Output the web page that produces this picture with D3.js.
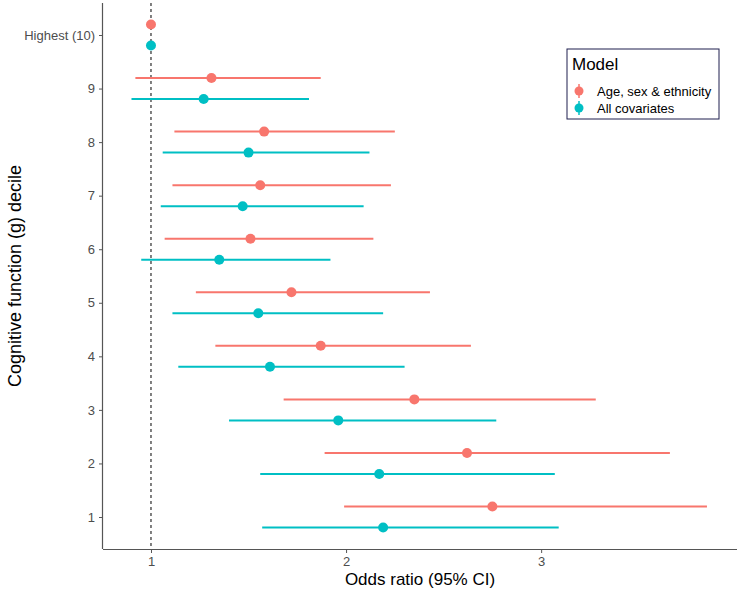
<!DOCTYPE html>
<html>
<head>
<meta charset="utf-8">
<script src="https://cdn.jsdelivr.net/npm/d3@7"></script>
<style>
  body { margin: 0; background: #fff; }
  svg { display: block; font-family: "Liberation Sans", Arial, sans-serif; }
</style>
</head>
<body>
<svg id="chart" width="738" height="593"></svg>
<script>
// ---- data ----
const deciles = ["1", "2", "3", "4", "5", "6", "7", "8", "9", "Highest (10)"];
const models = ["Age, sex & ethnicity", "All covariates"];
const orAge   = [2.75, 2.62, 2.35, 1.87, 1.72, 1.51, 1.56, 1.58, 1.31, 1.00];
const loAge   = [1.99, 1.89, 1.68, 1.33, 1.23, 1.07, 1.11, 1.12, 0.92, 1.00];
const hiAge   = [3.85, 3.66, 3.28, 2.64, 2.43, 2.14, 2.23, 2.25, 1.87, 1.00];
const orAll   = [2.19, 2.17, 1.96, 1.61, 1.55, 1.35, 1.47, 1.50, 1.27, 1.00];
const loAll   = [1.57, 1.56, 1.40, 1.14, 1.11, 0.95, 1.05, 1.06, 0.90, 1.00];
const hiAll   = [3.09, 3.07, 2.77, 2.30, 2.19, 1.92, 2.09, 2.12, 1.81, 1.00];
const xTicks  = [1, 2, 3];
const colors  = ["#F8766D", "#00BFC4"];

const rows = [];
deciles.forEach((d, i) => {
  rows.push({ decile: d, model: 0, or: orAge[i], lo: loAge[i], hi: hiAge[i] });
  rows.push({ decile: d, model: 1, or: orAll[i], lo: loAll[i], hi: hiAll[i] });
});

const svg = d3.select("#chart");
const pLeft = 103, pRight = 737, pTop = 3, pBottom = 549;

const x = d3.scaleLinear().domain([0.754, 4.004]).range([pLeft, pRight]);
const y = d3.scalePoint().domain(deciles).range([517, 35]);
const dodge = 10.5;
const yOf = r => y(r.decile) + (r.model === 0 ? -dodge : dodge);

// reference line
svg.append("line")
  .attr("x1", x(1)).attr("x2", x(1))
  .attr("y1", pTop).attr("y2", pBottom)
  .attr("stroke", "#000").attr("stroke-width", 1)
  .attr("stroke-dasharray", "3,3");

// error bars
svg.append("g").selectAll("line").data(rows.filter(r => r.hi > r.lo)).join("line")
  .attr("x1", r => x(r.lo)).attr("x2", r => x(r.hi))
  .attr("y1", yOf).attr("y2", yOf)
  .attr("stroke", r => colors[r.model])
  .attr("stroke-width", 2);

// points
svg.append("g").selectAll("circle").data(rows).join("circle")
  .attr("cx", r => x(r.or)).attr("cy", yOf)
  .attr("r", 5)
  .attr("fill", r => colors[r.model]);

// axes
const axisColor = "#555";
const xAxis = svg.append("g").attr("transform", `translate(0,${pBottom})`)
  .call(d3.axisBottom(x).tickValues(xTicks).tickSize(4).tickPadding(4).tickFormat(d3.format("d")));
xAxis.select(".domain").attr("d", `M${pLeft},0.5H${pRight}`).attr("stroke", axisColor).attr("stroke-width", 1.2);
xAxis.selectAll(".tick line").attr("stroke", axisColor);
xAxis.selectAll(".tick text").attr("fill", "#4d4d4d").attr("font-size", 13).attr("font-family", "Liberation Sans, Arial, sans-serif");

const yAxis = svg.append("g").attr("transform", `translate(${pLeft},0)`)
  .call(d3.axisLeft(y).tickSize(4).tickPadding(4));
yAxis.select(".domain").attr("d", `M-0.5,${pTop}V${pBottom}`).attr("stroke", axisColor).attr("stroke-width", 1.2);
yAxis.selectAll(".tick line").attr("stroke", axisColor);
yAxis.selectAll(".tick text").attr("fill", "#4d4d4d").attr("font-size", 13).attr("font-family", "Liberation Sans, Arial, sans-serif");

// axis titles
svg.append("text")
  .attr("x", (pLeft + pRight) / 2).attr("y", 585)
  .attr("text-anchor", "middle").attr("font-size", 17).attr("fill", "#000")
  .text("Odds ratio (95% CI)");
svg.append("text")
  .attr("transform", `translate(21,${(pTop + pBottom) / 2}) rotate(-90)`)
  .attr("text-anchor", "middle").attr("font-size", 18).attr("fill", "#000")
  .text("Cognitive function (g) decile");

// legend
const lg = svg.append("g");
lg.append("rect").attr("x", 567).attr("y", 49).attr("width", 152).attr("height", 70)
  .attr("fill", "#fff").attr("stroke", "#1f1f4f").attr("stroke-width", 1);
lg.append("text").attr("x", 572).attr("y", 70).attr("font-size", 17).attr("fill", "#000").text("Model");
models.forEach((m, i) => {
  const cy = 91 + i * 17;
  lg.append("line").attr("x1", 579).attr("x2", 579).attr("y1", cy - 7).attr("y2", cy + 7)
    .attr("stroke", colors[i]).attr("stroke-width", 1.5);
  lg.append("circle").attr("cx", 579).attr("cy", cy).attr("r", 4.5).attr("fill", colors[i]);
  lg.append("text").attr("x", 597).attr("y", cy + 4.5).attr("font-size", 13).attr("fill", "#000").text(m);
});
</script>
</body>
</html>
